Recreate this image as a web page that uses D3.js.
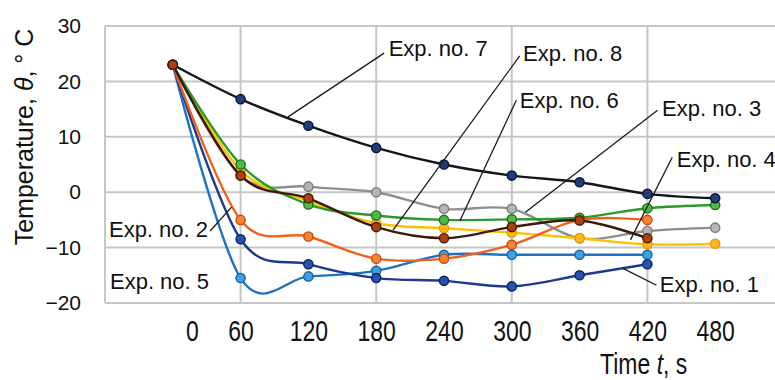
<!DOCTYPE html>
<html>
<head>
<meta charset="utf-8">
<script src="https://cdn.jsdelivr.net/npm/d3@7"></script>
<style>
  html, body { margin: 0; padding: 0; background: #fff; }
  svg { display: block; font-family: "Liberation Sans", Arial, sans-serif; }
</style>
</head>
<body>
<svg id="chart" width="775" height="380"></svg>
<script>
// Sampling times (s) and measured temperatures (°C) for each experiment
const times = [0, 60, 120, 180, 240, 300, 360, 420, 480];
const exp1 = [23, -8.5, -13, -15.5, -16, -17, -15, -13];
const exp2 = [23, -5, -8, -12, -12, -9.5, -5, -5];
const exp3 = [23, 3, 1, 0, -3, -3, -8.3, -7, -6.4];
const exp4 = [23, 4, -1.6, -5.6, -6.5, -7.3, -8.3, -9.4, -9.3];
const exp5 = [23, -15.5, -15.2, -14.2, -11.3, -11.3, -11.3, -11.3];
const exp6 = [23, 5, -2.2, -4.2, -5, -4.9, -4.6, -2.9, -2.3];
const exp7 = [23, 16.8, 12, 8, 5, 3, 1.8, -0.3, -1.1];
const exp8 = [23, 3, -1.1, -6.3, -8.3, -6.3, -5.1, -8.3];

const yTicks = [-20, -10, 0, 10, 20, 30];
const xGrid = [60, 180, 300, 420];

// drawing order (back to front) and colours
const series = [
  { name: "Exp. no. 3", values: exp3, line: "#8e8e8e", fill: "#b4b4b4", edge: "#7a7a7a" },
  { name: "Exp. no. 4", values: exp4, line: "#ffc000", fill: "#ffb81c", edge: "#e39a00" },
  { name: "Exp. no. 6", values: exp6, line: "#2b9a2b", fill: "#4cbc44", edge: "#1d6e1d" },
  { name: "Exp. no. 5", values: exp5, line: "#1f72c0", fill: "#3ba2e2", edge: "#1b5f9e" },
  { name: "Exp. no. 1", values: exp1, line: "#1c3a8c", fill: "#2452ae", edge: "#0f2260" },
  { name: "Exp. no. 2", values: exp2, line: "#f0621c", fill: "#f78434", edge: "#c84a0e" },
  { name: "Exp. no. 7", values: exp7, line: "#121620", fill: "#1f3d78", edge: "#0b1530" },
  { name: "Exp. no. 8", values: exp8, line: "#3a1a0c", fill: "#a8420f", edge: "#4a1a06" }
];

// callout labels: text anchor and leader line, in data units (t, °C)
const callouts = [
  { text: "Exp. no. 7", at: [191, 24.6], from: [187, 25.1], to: [102, 13.6] },
  { text: "Exp. no. 8", at: [310, 23.7], from: [307, 24.6], to: [195, -6.8] },
  { text: "Exp. no. 6", at: [307, 15.2], from: [304, 16.6], to: [254, -5.2] },
  { text: "Exp. no. 3", at: [433, 13.8], from: [429, 14.8], to: [312, -3.6] },
  { text: "Exp. no. 4", at: [446, 4.5], from: [442, 6.3], to: [405, -8.6] },
  { text: "Exp. no. 1", at: [431, -18], from: [428, -16.8], to: [398, -13.7] },
  { text: "Exp. no. 2", at: [-56.5, -8.1], from: [33, -7], to: [52, -2.7] },
  { text: "Exp. no. 5", at: [-55.6, -17.5] }
];

const svg = d3.select("#chart");
const x = d3.scaleLinear().domain([-60, 540]).range([105, 783]);
const y = d3.scaleLinear().domain([-20, 30]).range([303, 26]);
const gridColor = "#c6c6c6";

// gridlines and plot frame
const grid = svg.append("g");
grid.selectAll("line.h").data(yTicks).join("line")
  .attr("x1", x(-60)).attr("x2", x(540))
  .attr("y1", d => y(d)).attr("y2", d => y(d))
  .attr("stroke", gridColor).attr("stroke-width", 2);
grid.selectAll("line.v").data([-60, ...xGrid, 540]).join("line")
  .attr("x1", d => x(d)).attr("x2", d => x(d))
  .attr("y1", y(30)).attr("y2", y(-20))
  .attr("stroke", gridColor).attr("stroke-width", 2);

// y axis
const yAxis = svg.append("g")
  .attr("transform", `translate(${x(-60)},0)`)
  .call(d3.axisLeft(y).tickValues(yTicks).tickSize(0).tickPadding(24));
yAxis.select(".domain").remove();
yAxis.selectAll("text")
  .attr("font-size", 21).attr("fill", "#111")
  .attr("font-family", "Liberation Sans, Arial, sans-serif");

// x axis (tall, narrow numerals)
const xAxis = svg.append("g")
  .attr("transform", `translate(0,${y(-20)})`)
  .call(d3.axisBottom(x).tickValues(times).tickSize(0));
xAxis.select(".domain").remove();
xAxis.selectAll("text")
  .attr("y", 0).attr("dy", 0)
  .attr("dx", d => d === 0 ? 19 : 0)
  .attr("transform", "translate(0,38) scale(1,1.32)")
  .attr("font-size", 23).attr("fill", "#111")
  .attr("font-family", "Liberation Sans, Arial, sans-serif");

// axis titles
const xTitle = svg.append("text")
  .attr("transform", "translate(600,374) scale(1,1.28)")
  .attr("font-size", 23).attr("fill", "#111");
xTitle.append("tspan").text("Time ");
xTitle.append("tspan").attr("font-style", "italic").text("t");
xTitle.append("tspan").text(", s");

const yTitle = svg.append("text")
  .attr("transform", "translate(33,137) rotate(-90)")
  .attr("text-anchor", "middle")
  .attr("font-size", 25).attr("fill", "#111");
yTitle.append("tspan").text("Temperature, ");
yTitle.append("tspan").attr("font-style", "italic").text("θ");
yTitle.append("tspan").text(", ° C");

// smoothed series lines with circular markers
const line = d3.line()
  .x((d, i) => x(times[i]))
  .y(d => y(d))
  .curve(d3.curveCardinal.tension(0));

const gSeries = svg.append("g");
series.forEach(s => {
  const g = gSeries.append("g");
  g.append("path")
    .attr("d", line(s.values))
    .attr("fill", "none")
    .attr("stroke", s.line)
    .attr("stroke-width", 2.4)
    .attr("stroke-linejoin", "round");
  g.selectAll("circle").data(s.values).join("circle")
    .attr("cx", (d, i) => x(times[i]))
    .attr("cy", d => y(d))
    .attr("r", 4.6)
    .attr("fill", s.fill)
    .attr("stroke", s.edge)
    .attr("stroke-width", 1.4);
});

// callouts
const gAnn = svg.append("g");
callouts.forEach(c => {
  if (c.from) {
    gAnn.append("line")
      .attr("x1", x(c.from[0])).attr("y1", y(c.from[1]))
      .attr("x2", x(c.to[0])).attr("y2", y(c.to[1]))
      .attr("stroke", "#1a1a1a").attr("stroke-width", 1.3);
  }
  gAnn.append("text")
    .attr("x", x(c.at[0])).attr("y", y(c.at[1]))
    .attr("font-size", 22).attr("fill", "#111")
    .text(c.text);
});
</script>
</body>
</html>
